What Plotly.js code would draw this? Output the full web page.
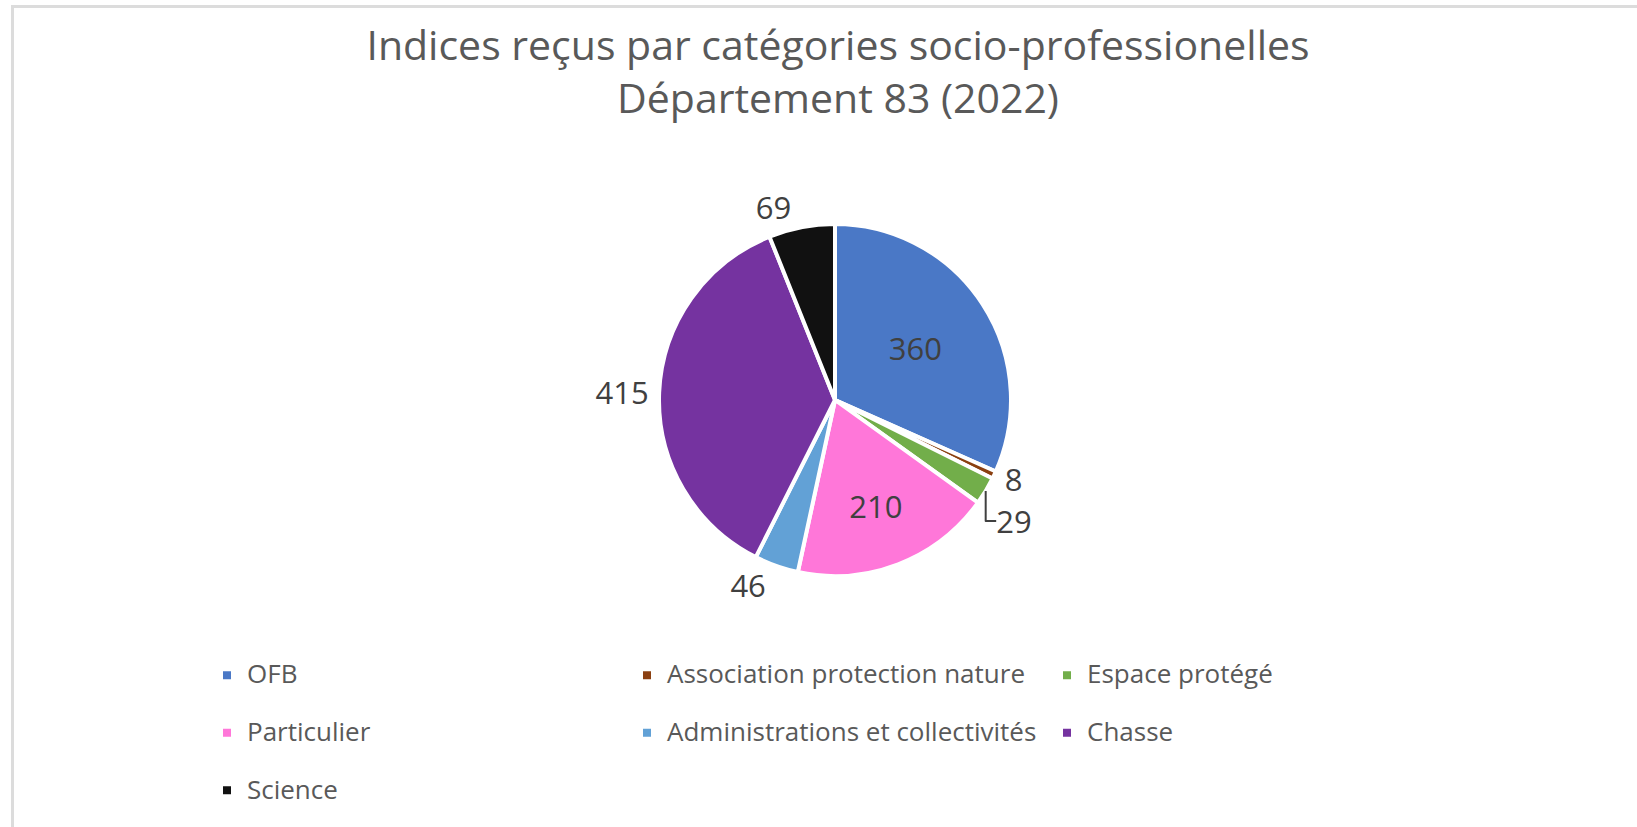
<!DOCTYPE html>
<html>
<head>
<meta charset="utf-8">
<script src="https://cdn.plot.ly/plotly-3.0.1.min.js"></script>
<style>
  html, body { margin: 0; padding: 0; background: #ffffff; }
  #chart { position: absolute; left: 0; top: 0; width: 1637px; height: 827px; }
  #frame { position: absolute; left: 11px; top: 5px; width: 1626px; height: 822px;
           border-left: 3px solid #dcdcdc; border-top: 3px solid #dcdcdc; box-sizing: border-box;
           pointer-events: none; }
</style>
</head>
<body>
<div id="chart"></div>
<div id="frame"></div>
<script>
const categories = ["OFB", "Association protection nature", "Espace protégé", "Particulier",
                    "Administrations et collectivités", "Chasse", "Science"];
const values = [360, 8, 29, 210, 46, 415, 69];
const sliceColors = ["#4a78c6", "#8b4011", "#72ae4a", "#ff77d9", "#62a1d6", "#7533a0", "#111111"];
const labelPositions = ["inside", "outside", "outside", "inside", "outside", "outside", "outside"];

const W = 1637, H = 827;
const cx = 835, cy = 400, r = 176;
const FONT = "'Open Sans', sans-serif";

const trace = {
  type: "pie",
  labels: categories.map(c => '<span style="font-size:26px">' + c + '</span><br> '),
  values: values,
  sort: false,
  direction: "clockwise",
  rotation: 0,
  marker: { colors: sliceColors, line: { color: "#ffffff", width: 4 } },
  textinfo: "value",
  textposition: labelPositions,
  insidetextorientation: "horizontal",
  textfont: { family: FONT, size: 31, color: "#404040" },
  outsidetextfont: { family: FONT, size: 31, color: "#404040" },
  insidetextfont: { family: FONT, size: 31, color: "#404040" },
  automargin: false,
  domain: { x: [(cx - r) / W, (cx + r) / W], y: [1 - (cy + r) / H, 1 - (cy - r) / H] },
  hoverinfo: "value"
};

const layout = {
  width: W, height: H,
  paper_bgcolor: "#ffffff",
  margin: { l: 0, r: 0, t: 0, b: 0, autoexpand: false },
  title: {
    text: "Indices reçus par catégories socio-professionelles<br>Département 83 (2022)",
    font: { family: FONT, size: 41, color: "#595959" },
    x: 838 / W, xanchor: "center", yref: "container", y: 1 - 60 / H, yanchor: "top"
  },
  showlegend: true,
  legend: {
    orientation: "h",
    x: 207 / W, xanchor: "left",
    y: 1 - 655 / H, yanchor: "top",
    entrywidth: 375, entrywidthmode: "pixels",
    valign: "top",
    bgcolor: "rgba(0,0,0,0)",
    font: { family: FONT, size: 21, color: "#595959" },
    traceorder: "normal"
  }
};

Plotly.newPlot("chart", [trace], layout, { displayModeBar: false, staticPlot: true });
</script>
</body>
</html>
